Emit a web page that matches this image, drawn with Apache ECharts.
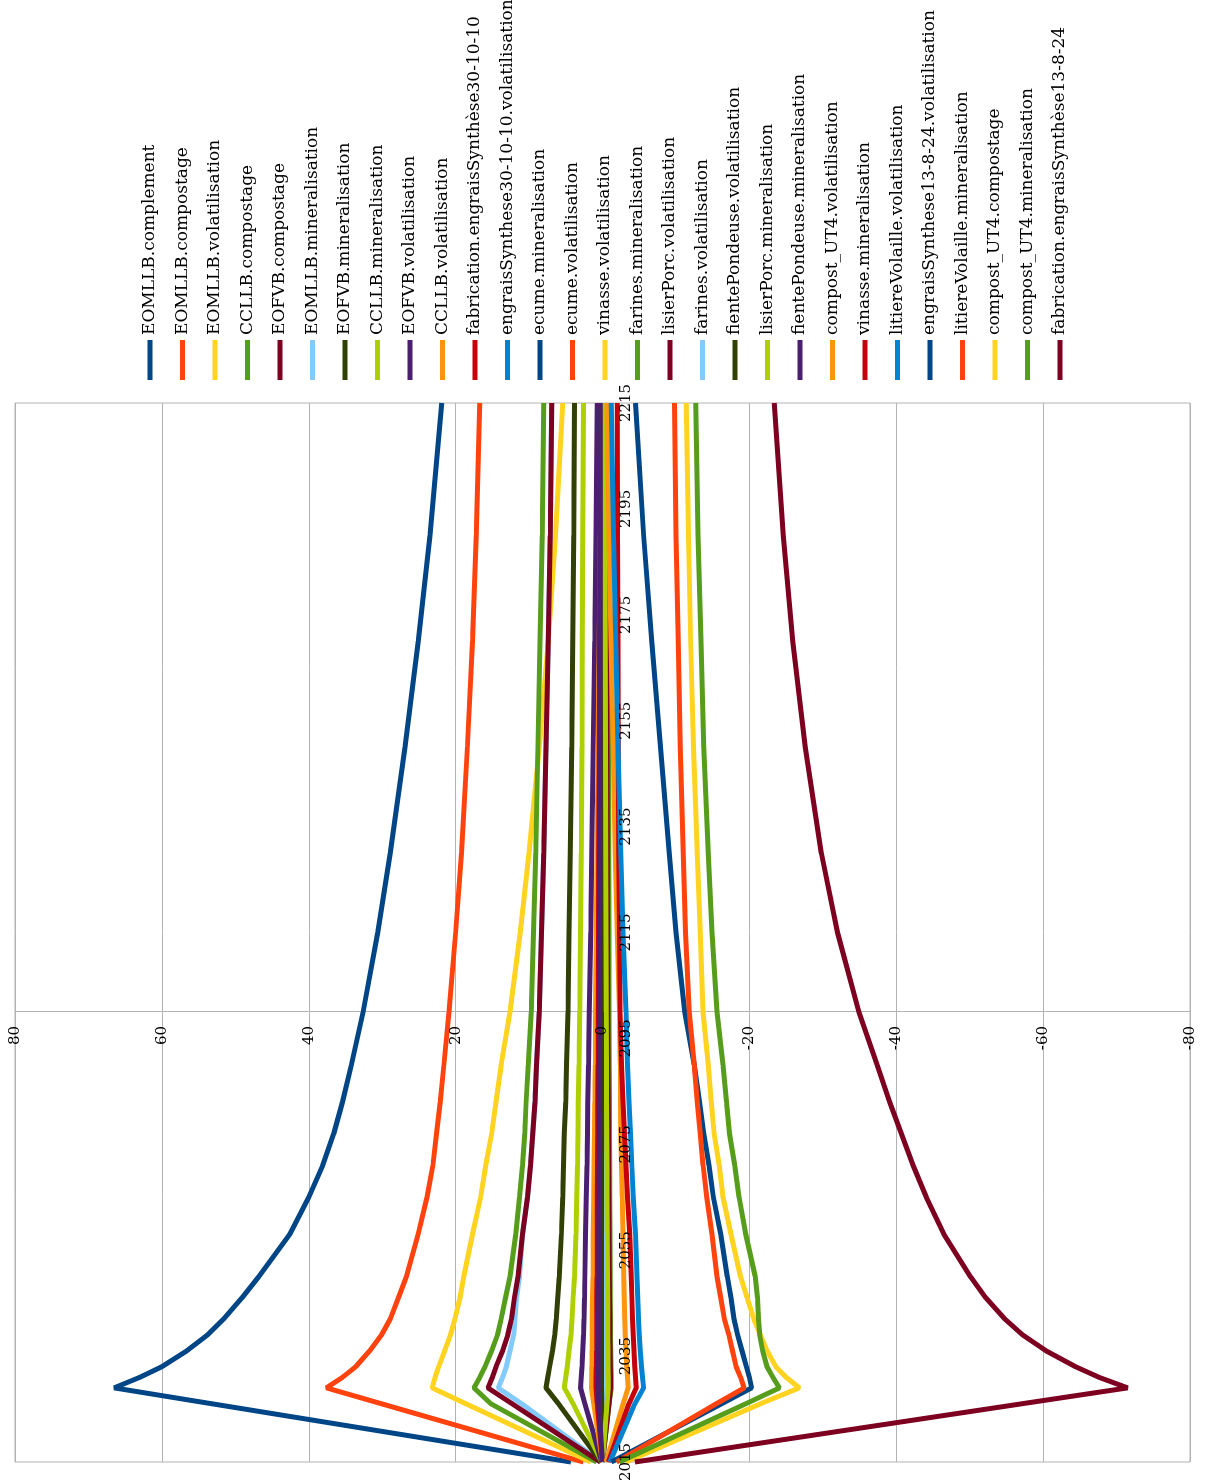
<!DOCTYPE html>
<html>
<head>
<meta charset="utf-8">
<script src="https://cdn.jsdelivr.net/npm/echarts@6.0.0/dist/echarts.min.js"></script>
<style>
  html, body { margin: 0; padding: 0; width: 1206px; height: 1483px; overflow: hidden; background: #fff; }
  /* chart is drawn upright (1483 x 1206) then turned a quarter turn left */
  #chart {
    position: absolute; left: 0; top: 0;
    width: 1483px; height: 1206px;
    transform-origin: 0 0;
    transform: translate(0, 1483px) rotate(-90deg);
  }
</style>
</head>
<body>
<div id="chart"></div>
<script>
  const years = [2015, 2026, 2029, 2031, 2033, 2036, 2039, 2042, 2046, 2050, 2058, 2065, 2071, 2077, 2083, 2090, 2100, 2115, 2130, 2150, 2170, 2190, 2215]

  const eomllbComplement = [4.3, 53.2, 66.5, 63.0, 60.0, 56.6, 53.8, 51.6, 49.1, 46.8, 42.6, 40.0, 38.1, 36.6, 35.4, 34.2, 32.6, 30.6, 28.9, 26.9, 25.1, 23.5, 21.9]
  const eomllbCompostage = [2.6, 30.1, 37.6, 35.4, 33.6, 31.7, 30.1, 28.9, 27.8, 26.7, 25.1, 23.9, 23.1, 22.6, 22.1, 21.6, 20.9, 20.0, 19.2, 18.4, 17.7, 17.2, 16.7]
  const eomllbVolatilisation = [1.6, 18.6, 23.2, 22.8, 22.3, 21.5, 20.7, 20.1, 19.4, 18.9, 17.7, 16.6, 15.9, 15.1, 14.5, 13.8, 12.6, 11.2, 10.0, 8.6, 7.4, 6.4, 5.4]
  const ccllbCompostage = [0.8, 15.2, 17.5, 16.7, 16.0, 15.1, 14.3, 13.8, 13.2, 12.6, 11.8, 11.3, 10.9, 10.6, 10.4, 10.1, 9.7, 9.4, 9.1, 8.8, 8.5, 8.2, 8.0]
  const eofvbCompostage = [0.3, 12.3, 15.6, 15.0, 14.5, 13.6, 12.9, 12.4, 12.0, 11.5, 10.9, 10.2, 9.8, 9.5, 9.2, 9.0, 8.6, 8.3, 8.0, 7.7, 7.4, 7.1, 6.9]
  const eomllbMineralisation = [0.2, 11.0, 14.2, 13.6, 13.1, 12.6, 12.1, 11.9, 11.7, 11.3, 10.9, 10.2, 9.8, 9.5, 9.2, 9.0, 8.6, 8.3, 8.0, 7.7, 7.4, 7.1, 6.9]
  const eofvbMineralisation = [0.2, 6.0, 7.7, 7.45, 7.2, 6.8, 6.5, 6.3, 6.1, 5.9, 5.6, 5.4, 5.3, 5.2, 5.0, 4.9, 4.7, 4.55, 4.4, 4.2, 4.05, 3.9, 3.8]
  const ccllbMineralisation = [0.1, 4.0, 5.2, 5.0, 4.8, 4.55, 4.3, 4.15, 4.0, 3.8, 3.6, 3.5, 3.4, 3.35, 3.3, 3.2, 3.1, 3.0, 2.9, 2.8, 2.75, 2.7, 2.6]
  const eofvbVolatilisation = [0.1, 2.4, 3.0, 2.9, 2.8, 2.7, 2.6, 2.52, 2.45, 2.4, 2.3, 2.2, 2.1, 2.05, 2.0, 1.9, 1.8, 1.6, 1.45, 1.25, 1.05, 0.9, 0.7]
  const ccllbVolatilisation = [0.0, 1.2, 1.5, 1.48, 1.45, 1.42, 1.4, 1.38, 1.35, 1.3, 1.25, 1.2, 1.15, 1.1, 1.05, 1.0, 0.95, 0.85, 0.75, 0.6, 0.45, 0.3, 0.15]
  const fabEngrais301010 = [0.0, 0.7, 0.9, 0.88, 0.85, 0.82, 0.8, 0.79, 0.78, 0.75, 0.72, 0.7, 0.68, 0.65, 0.63, 0.6, 0.58, 0.55, 0.5, 0.45, 0.4, 0.35, 0.3]
  const engrais301010Volatilisation = [0.0, 0.1, 0.15, 0.15, 0.15, 0.15, 0.14, 0.14, 0.14, 0.13, 0.13, 0.12, 0.12, 0.12, 0.11, 0.11, 0.1, 0.1, 0.09, 0.08, 0.07, 0.06, 0.05]
  const ecumeMineralisation = [0.0, -0.2, -0.3, -0.3, -0.3, -0.29, -0.28, -0.28, -0.27, -0.26, -0.25, -0.24, -0.23, -0.22, -0.21, -0.2, -0.19, -0.17, -0.15, -0.13, -0.11, -0.09, -0.07]
  const ecumeVolatilisation = [0.0, 0.4, 0.5, 0.49, 0.48, 0.47, 0.46, 0.45, 0.44, 0.42, 0.4, 0.38, 0.36, 0.35, 0.34, 0.33, 0.32, 0.3, 0.28, 0.25, 0.22, 0.2, 0.18]
  const vinasseVolatilisation = [0.0, -0.4, -0.5, -0.49, -0.48, -0.47, -0.46, -0.45, -0.44, -0.42, -0.4, -0.38, -0.36, -0.35, -0.34, -0.33, -0.32, -0.3, -0.28, -0.26, -0.24, -0.22, -0.2]
  const farinesMineralisation = [0.0, -0.9, -1.2, -1.18, -1.15, -1.12, -1.1, -1.08, -1.07, -1.05, -1.02, -1.0, -0.98, -0.96, -0.94, -0.92, -0.9, -0.88, -0.86, -0.84, -0.82, -0.8, -0.8]
  const lisierPorcVolatilisation = [0.0, -0.9, -1.1, -1.08, -1.05, -1.02, -1.0, -0.98, -0.96, -0.93, -0.9, -0.86, -0.83, -0.8, -0.78, -0.75, -0.72, -0.68, -0.64, -0.6, -0.55, -0.5, -0.45]
  const farinesVolatilisation = [0.0, -0.1, -0.15, -0.15, -0.15, -0.15, -0.14, -0.14, -0.14, -0.13, -0.13, -0.12, -0.12, -0.12, -0.11, -0.11, -0.1, -0.1, -0.09, -0.08, -0.07, -0.06, -0.05]
  const fienteVolatilisation = [0.0, 0.1, 0.15, 0.15, 0.14, 0.14, 0.14, 0.13, 0.13, 0.13, 0.12, 0.12, 0.12, 0.11, 0.11, 0.1, 0.1, 0.09, 0.09, 0.08, 0.07, 0.06, 0.05]
  const lisierPorcMineralisation = [0.0, -0.6, -0.8, -0.78, -0.75, -0.74, -0.72, -0.71, -0.7, -0.68, -0.65, -0.62, -0.6, -0.58, -0.56, -0.54, -0.52, -0.48, -0.44, -0.4, -0.36, -0.33, -0.3]
  const fienteMineralisation = [0.0, 0.5, 0.6, 0.59, 0.58, 0.57, 0.56, 0.55, 0.54, 0.52, 0.5, 0.48, 0.46, 0.45, 0.44, 0.43, 0.42, 0.4, 0.38, 0.36, 0.34, 0.32, 0.3]
  const compostVolatilisation = [-0.5, -2.8, -3.5, -3.4, -3.3, -3.2, -3.1, -3.02, -2.95, -2.9, -2.8, -2.7, -2.6, -2.5, -2.45, -2.4, -2.3, -2.0, -1.75, -1.45, -1.15, -0.9, -0.6]
  const vinasseMineralisation = [-0.8, -3.6, -4.6, -4.5, -4.4, -4.3, -4.2, -4.1, -4.0, -3.9, -3.7, -3.4, -3.2, -3.0, -2.8, -2.6, -2.4, -2.3, -2.2, -2.15, -2.1, -2.05, -2.0]
  const litiereVolatilisation = [-1.0, -4.4, -5.6, -5.45, -5.3, -5.15, -5.0, -4.9, -4.8, -4.7, -4.5, -4.2, -4.0, -3.8, -3.6, -3.4, -3.2, -2.8, -2.5, -2.1, -1.8, -1.5, -1.2]
  const engrais13824Volatilisation = [-1.2, -16.2, -20.3, -20.0, -19.6, -19.0, -18.4, -17.9, -17.5, -17.0, -16.1, -15.1, -14.5, -13.8, -13.2, -12.5, -11.2, -10.0, -9.1, -7.9, -6.7, -5.6, -4.5]
  const litiereMineralisation = [-1.9, -15.5, -19.3, -18.8, -18.2, -17.7, -17.2, -16.6, -16.1, -15.6, -14.9, -14.2, -13.7, -13.3, -12.9, -12.5, -11.8, -11.3, -11.0, -10.6, -10.3, -10.0, -9.8]
  const compostCompostage = [-3.2, -21.5, -26.8, -25.0, -23.6, -22.4, -21.5, -20.6, -19.7, -18.8, -17.5, -16.4, -15.9, -15.2, -14.8, -14.4, -13.7, -13.3, -12.9, -12.4, -12.0, -11.7, -11.4]
  const compostMineralisation = [-2.3, -19.5, -24.1, -23.2, -22.4, -21.8, -21.4, -21.25, -21.1, -20.8, -19.5, -18.6, -18.0, -17.3, -16.9, -16.4, -15.6, -14.9, -14.4, -13.8, -13.4, -13.0, -12.7]
  const fabEngrais13824 = [-4.4, -57.1, -71.5, -67.6, -64.4, -60.4, -57.2, -54.8, -52.2, -50.1, -46.5, -44.1, -42.3, -40.7, -39.1, -37.4, -34.9, -32.0, -29.8, -27.6, -25.9, -24.6, -23.4]

  const seriesNames = [
    'EOMLLB.complement', 'EOMLLB.compostage', 'EOMLLB.volatilisation', 'CCLLB.compostage',
    'EOFVB.compostage', 'EOMLLB.mineralisation', 'EOFVB.mineralisation', 'CCLLB.mineralisation',
    'EOFVB.volatilisation', 'CCLLB.volatilisation', 'fabrication.engraisSynthèse30-10-10',
    'engraisSynthese30-10-10.volatilisation', 'ecume.mineralisation', 'ecume.volatilisation',
    'vinasse.volatilisation', 'farines.mineralisation', 'lisierPorc.volatilisation',
    'farines.volatilisation', 'fientePondeuse.volatilisation', 'lisierPorc.mineralisation',
    'fientePondeuse.mineralisation', 'compost_UT4.volatilisation', 'vinasse.mineralisation',
    'litiereVolaille.volatilisation', 'engraisSynthese13-8-24.volatilisation',
    'litiereVolaille.mineralisation', 'compost_UT4.compostage', 'compost_UT4.mineralisation',
    'fabrication.engraisSynthèse13-8-24'
  ]
  const seriesValues = [
    eomllbComplement, eomllbCompostage, eomllbVolatilisation, ccllbCompostage,
    eofvbCompostage, eomllbMineralisation, eofvbMineralisation, ccllbMineralisation,
    eofvbVolatilisation, ccllbVolatilisation, fabEngrais301010,
    engrais301010Volatilisation, ecumeMineralisation, ecumeVolatilisation,
    vinasseVolatilisation, farinesMineralisation, lisierPorcVolatilisation,
    farinesVolatilisation, fienteVolatilisation, lisierPorcMineralisation,
    fienteMineralisation, compostVolatilisation, vinasseMineralisation,
    litiereVolatilisation, engrais13824Volatilisation,
    litiereMineralisation, compostCompostage, compostMineralisation,
    fabEngrais13824
  ]
  // office default palette, repeated
  const palette = ['#004586', '#ff420e', '#ffd320', '#579d1c', '#7e0021', '#83caff',
    '#314004', '#aecf00', '#4b1f6f', '#ff950e', '#c5000b', '#0084d1']

  const font = 'DejaVu Serif'
  const labelStyle = { fontFamily: font, fontSize: 15, color: '#000' }
  const chart = echarts.init(document.getElementById('chart'))

  chart.setOption({
    animation: false,
    backgroundColor: '#fff',
    color: palette,
    grid: {
      left: 21,
      right: 403,
      top: 15,
      bottom: 16,
      outerBoundsMode: 'none',
      containLabel: false,
      show: true,
      borderColor: '#b3b3b3',
      borderWidth: 1
    },
    legend: {
      orient: 'vertical',
      left: 1098,
      top: 135,
      icon: 'rect',
      itemWidth: 40,
      itemHeight: 5,
      itemGap: 12.5,
      textStyle: {
        fontFamily: font,
        fontSize: 17,
        lineHeight: 20,
        color: '#000'
      },
      data: seriesNames
    },
    xAxis: {
      type: 'value',
      min: 2015,
      max: 2215,
      interval: 20,
      position: 'bottom',
      // time axis labels sit on the zero line, above the curves
      offset: -587.5,
      z: 10,
      axisLine: { show: false, onZero: false },
      axisTick: { show: false },
      splitLine: { show: false },
      axisLabel: Object.assign({ margin: 16, formatter: v => String(v) }, labelStyle)
    },
    yAxis: [{
      type: 'value',
      min: -80,
      max: 80,
      interval: 20,
      // value axis crosses the time axis at 2100
      offset: -450,
      axisLine: { show: true, onZero: false, lineStyle: { color: '#b3b3b3', width: 1 } },
      axisTick: { show: false },
      splitLine: { show: true, lineStyle: { color: '#b3b3b3', width: 1 } },
      axisLabel: { show: false }
    }, {
      // labels only, drawn over the curves
      type: 'value',
      min: -80,
      max: 80,
      interval: 20,
      position: 'left',
      offset: -450,
      z: 10,
      axisLine: { show: false, onZero: false },
      axisTick: { show: false },
      splitLine: { show: false },
      axisLabel: Object.assign({ margin: 14 }, labelStyle)
    }],
    series: seriesNames.map((name, i) => ({
      name: name,
      type: 'line',
      yAxisIndex: 0,
      showSymbol: false,
      z: name === 'EOMLLB.mineralisation' ? 1 : 2,
      lineStyle: { width: 5 },
      data: years.map((y, k) => [y, seriesValues[i][k]])
    }))
  })
</script>
</body>
</html>
